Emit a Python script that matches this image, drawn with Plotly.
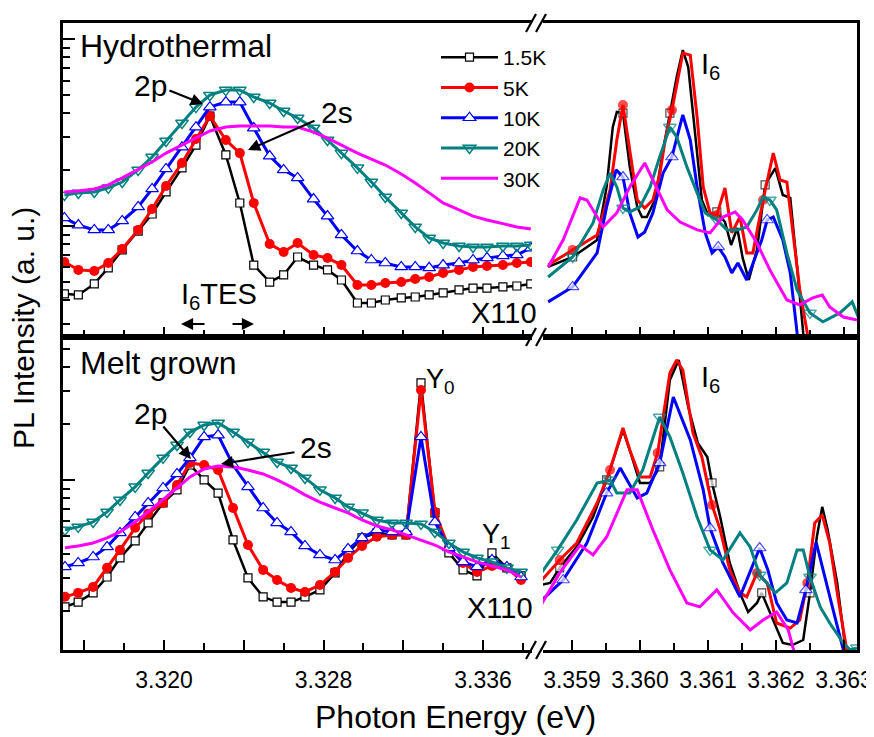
import plotly.graph_objects as go

# ---------------- data (log10 of PL intensity, arbitrary units) ----------------
labels = ["1.5K", "5K", "10K", "20K", "30K"]
colors = ["#000000", "#ff0000", "#0000ff", "#008080", "#ff00ff"]

# Hydrothermal, low-energy window (eV)
ht_left_E = [3.3150, 3.3157, 3.3165, 3.3172, 3.3179, 3.3187, 3.3194, 3.3201, 3.3209, 3.3216,
             3.3223, 3.3231, 3.3238, 3.3245, 3.3253, 3.3260, 3.3267, 3.3275, 3.3282, 3.3289,
             3.3297, 3.3304, 3.3311, 3.3319, 3.3326, 3.3333, 3.3340, 3.3348, 3.3355, 3.3362,
             3.3370, 3.3377, 3.3384]
ht_left_15K = [0.637, 0.631, 0.690, 0.776, 0.872, 0.973, 1.064, 1.182, 1.311, 1.433, 1.588, 1.380,
               1.123, 0.791, 0.700, 0.738, 0.834, 0.791, 0.765, 0.711, 0.588, 0.588, 0.604, 0.615,
               0.620, 0.631, 0.642, 0.658, 0.668, 0.668, 0.674, 0.679, 0.690]
ht_left_5K = [0.807, 0.765, 0.759, 0.802, 0.877, 0.979, 1.091, 1.214, 1.337, 1.465, 1.588, 1.460,
              1.390, 1.123, 0.904, 0.861, 0.909, 0.845, 0.829, 0.791, 0.684, 0.684, 0.695, 0.700,
              0.716, 0.727, 0.749, 0.765, 0.781, 0.786, 0.791, 0.802, 0.807]
ht_left_10K = [1.043, 1.005, 0.979, 0.979, 1.027, 1.102, 1.198, 1.305, 1.422, 1.529, 1.636, 1.663,
               1.663, 1.524, 1.374, 1.300, 1.257, 1.144, 1.053, 0.952, 0.866, 0.818, 0.802, 0.781,
               0.781, 0.776, 0.791, 0.802, 0.818, 0.829, 0.840, 0.845, 0.882]
ht_left_20K = [1.166, 1.177, 1.182, 1.204, 1.235, 1.300, 1.369, 1.455, 1.551, 1.636, 1.700, 1.727,
               1.727, 1.690, 1.658, 1.615, 1.578, 1.524, 1.460, 1.390, 1.311, 1.235, 1.155, 1.070,
               0.995, 0.936, 0.909, 0.893, 0.888, 0.888, 0.893, 0.893, 0.898]
ht_left_30K = [1.182, 1.187, 1.198, 1.220, 1.257, 1.300, 1.342, 1.390, 1.433, 1.470, 1.508, 1.529,
               1.535, 1.535, 1.535, 1.529, 1.529, 1.502, 1.470, 1.433, 1.390, 1.358, 1.326, 1.278,
               1.230, 1.177, 1.123, 1.086, 1.053, 1.032, 1.011, 0.995, 0.984]

# Hydrothermal, I6 window (eV)
ht_right_15K_E = [3.35865, 3.35901, 3.35937, 3.35951, 3.35960, 3.35966, 3.35975, 3.35985, 3.35996,
                  3.36003, 3.36010, 3.36022, 3.36034, 3.36044, 3.36054, 3.36063, 3.36071, 3.36081,
                  3.36091, 3.36100, 3.36113, 3.36125, 3.36134, 3.36143, 3.36151, 3.36160, 3.36172,
                  3.36184, 3.36199, 3.36210, 3.36221, 3.36231, 3.36240, 3.36244]
ht_right_15K = [0.781, 0.834, 0.925, 1.209, 1.529, 1.610, 1.604, 1.316, 1.102, 1.048, 1.048, 1.139,
                1.406, 1.604, 1.797, 1.941, 1.850, 1.497, 1.139, 1.059, 1.075, 1.021, 0.898, 0.989,
                0.829, 0.711, 0.872, 1.220, 1.310, 1.166, 1.150, 0.781, 0.428, 0.337]
ht_right_5K_E = [3.35865, 3.35901, 3.35937, 3.35956, 3.35966, 3.35975, 3.35985, 3.35996, 3.36007,
                 3.36019, 3.36029, 3.36037, 3.36047, 3.36054, 3.36063, 3.36074, 3.36084, 3.36093,
                 3.36103, 3.36113, 3.36125, 3.36135, 3.36147, 3.36157, 3.36166, 3.36181, 3.36196,
                 3.36206, 3.36216, 3.36225, 3.36235, 3.36246, 3.36250]
ht_right_5K = [0.791, 0.872, 0.952, 1.193, 1.460, 1.647, 1.406, 1.139, 1.096, 1.139, 1.273, 1.460,
               1.620, 1.754, 1.925, 1.914, 1.583, 1.209, 1.070, 1.059, 1.203, 0.963, 1.048, 0.856,
               0.856, 1.139, 1.390, 1.246, 1.235, 0.963, 0.658, 0.428, 0.337]
ht_right_10K_E = [3.35865, 3.35901, 3.35937, 3.35951, 3.35965, 3.35975, 3.35985, 3.35997, 3.36007,
                  3.36019, 3.36034, 3.36047, 3.36056, 3.36063, 3.36074, 3.36084, 3.36096, 3.36106,
                  3.36115, 3.36125, 3.36135, 3.36144, 3.36157, 3.36166, 3.36179, 3.36187, 3.36196,
                  3.36210, 3.36221, 3.36231, 3.36235]
ht_right_10K = [0.594, 0.674, 0.856, 1.102, 1.300, 1.262, 1.070, 0.941, 0.968, 1.070, 1.283, 1.369,
                1.497, 1.594, 1.460, 1.209, 0.963, 0.856, 0.888, 0.834, 0.749, 0.802, 0.711, 0.802,
                0.925, 1.032, 1.048, 0.925, 0.749, 0.428, 0.337]
ht_right_20K_E = [3.35865, 3.35901, 3.35931, 3.35946, 3.35956, 3.35966, 3.35975, 3.35985, 3.36000,
                  3.36015, 3.36029, 3.36044, 3.36054, 3.36069, 3.36084, 3.36096, 3.36113, 3.36128,
                  3.36143, 3.36157, 3.36172, 3.36181, 3.36191, 3.36201, 3.36216, 3.36231, 3.36250,
                  3.36269, 3.36294, 3.36312, 3.36321]
ht_right_20K = [0.727, 0.834, 1.016, 1.193, 1.283, 1.209, 1.096, 1.075, 1.102, 1.209, 1.369, 1.529,
                1.476, 1.316, 1.177, 1.070, 1.032, 0.979, 0.979, 0.995, 1.086, 1.155, 1.139, 1.086,
                0.856, 0.658, 0.535, 0.487, 0.535, 0.594, 0.513]
ht_right_30K_E = [3.35865, 3.35887, 3.35912, 3.35922, 3.35946, 3.35966, 3.35985, 3.36007, 3.36019,
                  3.36040, 3.36059, 3.36084, 3.36103, 3.36122, 3.36140, 3.36151, 3.36172, 3.36191,
                  3.36216, 3.36235, 3.36254, 3.36268, 3.36279, 3.36299, 3.36319]
ht_right_30K = [0.781, 0.925, 1.150, 1.139, 0.995, 1.070, 1.209, 1.337, 1.246, 1.086, 1.021, 0.979,
                0.963, 1.048, 1.075, 1.032, 0.909, 0.765, 0.604, 0.578, 0.615, 0.631, 0.567, 0.513,
                0.497]

# Melt grown, low-energy window (eV)
mg_left_E = [3.31503, 3.31569, 3.31644, 3.31714, 3.31779, 3.31855, 3.31920, 3.31995, 3.32065,
             3.32130, 3.32201, 3.32271, 3.32346, 3.32421, 3.32497, 3.32567, 3.32637, 3.32707,
             3.32782, 3.32858, 3.32923, 3.32993, 3.33068, 3.33144, 3.33214, 3.33289, 3.33359,
             3.33429, 3.33500, 3.33570, 3.33645, 3.33720, 3.33791]
mg_left_15K = [0.321, 0.347, 0.396, 0.481, 0.583, 0.674, 0.770, 0.877, 0.947, 1.080, 1.000, 0.930,
               0.679, 0.476, 0.375, 0.347, 0.347, 0.375, 0.412, 0.503, 0.610, 0.690, 0.717, 0.706,
               0.706, 1.519, 0.824, 0.610, 0.519, 0.487, 0.610, 0.530, 0.487]
mg_left_5K = [0.375, 0.396, 0.428, 0.530, 0.626, 0.744, 0.819, 0.877, 0.973, 1.091, 1.080, 1.053,
              0.850, 0.652, 0.519, 0.465, 0.422, 0.401, 0.438, 0.508, 0.583, 0.647, 0.696, 0.706,
              0.706, 1.481, 0.829, 0.637, 0.556, 0.508, 0.540, 0.530, 0.465]
mg_left_10K = [0.535, 0.556, 0.588, 0.642, 0.717, 0.802, 0.877, 0.957, 1.032, 1.118, 1.230, 1.240,
               1.080, 0.963, 0.850, 0.770, 0.722, 0.647, 0.599, 0.572, 0.631, 0.690, 0.733, 0.722,
               0.722, 1.230, 0.775, 0.637, 0.562, 0.535, 0.572, 0.535, 0.481]
mg_left_20K = [0.733, 0.749, 0.775, 0.829, 0.893, 0.963, 1.037, 1.118, 1.187, 1.256, 1.294, 1.305,
               1.256, 1.203, 1.149, 1.096, 1.064, 1.011, 0.947, 0.904, 0.856, 0.824, 0.786, 0.770,
               0.770, 0.765, 0.722, 0.663, 0.615, 0.583, 0.562, 0.530, 0.508]
mg_left_30K = [0.637, 0.647, 0.663, 0.690, 0.722, 0.775, 0.829, 0.893, 0.957, 1.016, 1.059, 1.075,
               1.070, 1.053, 1.032, 1.000, 0.963, 0.920, 0.882, 0.850, 0.824, 0.786, 0.754, 0.733,
               0.706, 0.679, 0.652, 0.615, 0.588, 0.562, 0.540, 0.519, 0.481]

# Melt grown, I6 window (eV)
mg_right_15K_E = [3.35853, 3.35868, 3.35882, 3.35907, 3.35931, 3.35951, 3.35975, 3.35985, 3.36000,
                  3.36015, 3.36029, 3.36044, 3.36057, 3.36071, 3.36085, 3.36099, 3.36106, 3.36118,
                  3.36132, 3.36147, 3.36159, 3.36172, 3.36179, 3.36191, 3.36210, 3.36224, 3.36240,
                  3.36250, 3.36260, 3.36268, 3.36276, 3.36290, 3.36301, 3.36309]
mg_right_15K = [0.438, 0.449, 0.530, 0.642, 0.802, 1.000, 1.267, 1.160, 0.984, 0.984, 1.070, 1.535,
                1.642, 1.390, 1.198, 1.123, 0.984, 0.802, 0.556, 0.396, 0.294, 0.342, 0.396, 0.289,
                0.128, 0.117, 0.144, 0.396, 0.695, 0.856, 0.733, 0.449, 0.128, 0.021]
mg_right_5K_E = [3.35853, 3.35882, 3.35907, 3.35937, 3.35956, 3.35975, 3.35985, 3.36000, 3.36015,
                 3.36026, 3.36044, 3.36054, 3.36063, 3.36078, 3.36091, 3.36106, 3.36118, 3.36132,
                 3.36147, 3.36157, 3.36172, 3.36187, 3.36201, 3.36221, 3.36235, 3.36246, 3.36257,
                 3.36268, 3.36279, 3.36291, 3.36304]
mg_right_5K = [0.454, 0.572, 0.663, 0.877, 1.053, 1.278, 1.160, 1.016, 1.016, 1.144, 1.572, 1.642,
               1.588, 1.251, 1.123, 0.866, 0.733, 0.519, 0.396, 0.375, 0.503, 0.449, 0.235, 0.208,
               0.251, 0.449, 0.770, 0.813, 0.663, 0.375, 0.091]
mg_right_10K_E = [3.35853, 3.35887, 3.35922, 3.35951, 3.35971, 3.35996, 3.36010, 3.36029, 3.36049,
                  3.36074, 3.36093, 3.36103, 3.36122, 3.36147, 3.36176, 3.36188, 3.36201, 3.36216,
                  3.36231, 3.36244, 3.36259, 3.36269, 3.36284, 3.36299]
mg_right_10K = [0.347, 0.465, 0.663, 0.930, 1.064, 0.904, 0.930, 1.091, 1.444, 1.214, 0.947, 0.743,
                0.556, 0.375, 0.636, 0.519, 0.342, 0.251, 0.235, 0.412, 0.668, 0.519, 0.305, 0.091]
mg_right_20K_E = [3.35853, 3.35879, 3.35907, 3.35937, 3.35956, 3.35966, 3.35985, 3.36004, 3.36029,
                  3.36044, 3.36063, 3.36084, 3.36103, 3.36122, 3.36147, 3.36162, 3.36176, 3.36199,
                  3.36216, 3.36231, 3.36240, 3.36250, 3.36265, 3.36279, 3.36299, 3.36309, 3.36319]
mg_right_20K = [0.492, 0.626, 0.786, 0.984, 1.000, 0.930, 0.930, 1.053, 1.337, 1.230, 1.037, 0.802,
                0.626, 0.572, 0.717, 0.642, 0.492, 0.396, 0.449, 0.626, 0.626, 0.481, 0.321, 0.235,
                0.128, 0.091, 0.102]
mg_right_30K_E = [3.35853, 3.35882, 3.35912, 3.35931, 3.35951, 3.35981, 3.35996, 3.36019, 3.36044,
                  3.36069, 3.36088, 3.36113, 3.36137, 3.36162, 3.36181, 3.36201, 3.36218, 3.36231]
mg_right_30K = [0.321, 0.503, 0.652, 0.599, 0.695, 0.947, 0.947, 0.733, 0.519, 0.342, 0.321, 0.412,
                0.289, 0.198, 0.251, 0.294, 0.198, 0.021]

# energies where the sparse markers sit in the I6 windows
ht_marker_E = [3.35901, 3.35975, 3.36047, 3.36115, 3.36187, 3.36254]
mg_marker_E = [3.35882, 3.35956, 3.36029, 3.36104, 3.36176, 3.36250, 3.36319]

# x tick values
left_ticks = [3.316, 3.320, 3.324, 3.328, 3.332, 3.336]
left_ticktext = ["", "3.320", "", "3.328", "", "3.336"]
right_ticks = [3.359, 3.360, 3.361, 3.362, 3.363]
right_ticktext = ["3.359", "3.360", "3.361", "3.362", "3.363"]

# ---------------- styling ----------------
FONT = "Arial, 'Liberation Sans', Helvetica, sans-serif"
symbols = ["square", "circle", "triangle-up", "triangle-down-open", None]
msizes = [8, 10, 11, 11, 0]
mfill = ["white", "#ff0000", "white", "#008080", None]
mline_w = [1.2, 0, 1.2, 1.5, 0]
lwidths = [2.5, 3, 3, 3, 3]

fig = go.Figure()


def add_series(xs, logs, i, xa, ya, sparse_grid=None, legend=False):
    ys = [10 ** v for v in logs]
    if symbols[i] is None:
        marker = None
        mode = "lines"
    else:
        if sparse_grid is None:
            size = msizes[i]
        else:
            size = [0] * len(xs)
            for g in sparse_grid:
                j = min(range(len(xs)), key=lambda k: abs(xs[k] - g))
                if abs(xs[j] - g) < 0.00008:
                    size[j] = msizes[i]
        marker = dict(symbol=symbols[i], size=size, color=mfill[i],
                      line=dict(color=colors[i], width=mline_w[i]))
        mode = "lines+markers"
    fig.add_trace(go.Scatter(
        x=xs, y=ys, mode=mode, name=labels[i], marker=marker,
        line=dict(color=colors[i], width=lwidths[i]),
        xaxis=xa, yaxis=ya, showlegend=legend, legendrank=i + 1))


ht_left = [ht_left_15K, ht_left_5K, ht_left_10K, ht_left_20K, ht_left_30K]
ht_right = [(ht_right_15K_E, ht_right_15K), (ht_right_5K_E, ht_right_5K),
            (ht_right_10K_E, ht_right_10K), (ht_right_20K_E, ht_right_20K),
            (ht_right_30K_E, ht_right_30K)]
mg_left = [mg_left_15K, mg_left_5K, mg_left_10K, mg_left_20K, mg_left_30K]
mg_right = [(mg_right_15K_E, mg_right_15K), (mg_right_5K_E, mg_right_5K),
            (mg_right_10K_E, mg_right_10K), (mg_right_20K_E, mg_right_20K),
            (mg_right_30K_E, mg_right_30K)]

for i in range(5):
    add_series(ht_left_E, ht_left[i], i, "x", "y", legend=True)
for i in range(5):
    add_series(ht_right[i][0], ht_right[i][1], i, "x2", "y2", sparse_grid=ht_marker_E)
for i in range(5):
    add_series(mg_left_E, mg_left[i], i, "x3", "y3")
for i in range(5):
    add_series(mg_right[i][0], mg_right[i][1], i, "x4", "y4", sparse_grid=mg_marker_E)

# ---------------- axes ----------------
XL = [0.0, 0.5907]
XR = [0.6045, 1.0]
YT = [0.4992, 1.0]
YB = [0.0, 0.4992]
LEFT_RANGE = [3.31493, 3.33846]
RIGHT_RANGE = [3.358574, 3.363191]
TOP_RANGE = [0.406, 2.086]
BOT_RANGE = [0.0906, 1.7645]

major_y = [1, 10, 100]
minor_y = [k * d for d in (0.1, 1, 10, 100) for k in range(2, 10)]

base_x = dict(showline=True, linecolor="black", linewidth=2.5, mirror=True,
              ticks="inside", ticklen=10, tickwidth=2, tickcolor="black",
              showgrid=False, zeroline=False, automargin=False,
              tickfont=dict(family=FONT, size=23, color="black"),
              ticklabelstandoff=8, ticklabeloverflow="allow")
left_x = dict(base_x, range=LEFT_RANGE, tickmode="array", tickvals=left_ticks,
              ticktext=left_ticktext,
              minor=dict(tickmode="linear", tick0=3.314, dtick=0.002, ticks="inside",
                         ticklen=7, tickwidth=2, tickcolor="black", showgrid=False))
right_x = dict(base_x, range=RIGHT_RANGE, tickmode="array",
               tickvals=right_ticks, ticktext=right_ticktext,
               minor=dict(tickmode="linear", tick0=3.3585, dtick=0.0005, ticks="inside",
                          ticklen=7, tickwidth=2, tickcolor="black", showgrid=False))

base_yl = dict(type="log", showline=True, linecolor="black", linewidth=2.5, mirror=False,
               ticks="inside", ticklen=12, tickwidth=2, tickcolor="black",
               tickmode="array", tickvals=major_y, showticklabels=False,
               showgrid=False, zeroline=False, automargin=False,
               minor=dict(tickmode="array", tickvals=minor_y, ticks="inside", ticklen=7,
                          tickwidth=2, tickcolor="black", showgrid=False))
base_yr = dict(type="log", showline=True, linecolor="black", linewidth=2.5, side="right",
               ticks="", showticklabels=False, showgrid=False, zeroline=False,
               automargin=False)

fig.update_layout(
    xaxis=dict(left_x, domain=XL, anchor="y", showticklabels=False),
    xaxis2=dict(right_x, domain=XR, anchor="y2", showticklabels=False),
    xaxis3=dict(left_x, domain=XL, anchor="y3"),
    xaxis4=dict(right_x, domain=XR, anchor="y4"),
    yaxis=dict(base_yl, domain=YT, anchor="x", range=TOP_RANGE),
    yaxis2=dict(base_yr, domain=YT, anchor="x2", range=TOP_RANGE),
    yaxis3=dict(base_yl, domain=YB, anchor="x3", range=BOT_RANGE),
    yaxis4=dict(base_yr, domain=YB, anchor="x4", range=BOT_RANGE),
)

# ---------------- layout ----------------
# the page body has an 8 px margin, so the figure is shifted 8 px right/down
PAGE_OFF = 8
W, H = 874, 737 - PAGE_OFF
ML, MR, MT, MB = 63 - PAGE_OFF, 17 + PAGE_OFF, 23 - PAGE_OFF, 87
PW, PH = W - ML - MR, H - MT - MB
PLOT_L, PLOT_B = 63, 650   # plot area in page pixels


def px(xp):
    return (xp - PLOT_L) / PW


def py(yp):
    return (PLOT_B - yp) / PH


fig.update_layout(
    width=W, height=H, autosize=False,
    margin=dict(l=ML, r=MR, t=MT, b=MB, autoexpand=False),
    paper_bgcolor="white", plot_bgcolor="white",
    font=dict(family=FONT, color="black"),
    showlegend=True,
    legend=dict(x=px(436), y=py(37), xanchor="left", yanchor="top",
                bgcolor="rgba(0,0,0,0)", font=dict(family=FONT, size=21, color="black"),
                itemwidth=57, tracegroupgap=0, itemsizing="trace"),
)

# axis-break marks
shapes = []
for yb in (23, 337, 650):
    for xb in (531, 541):
        shapes.append(dict(type="line", xref="paper", yref="paper",
                           x0=px(xb - 5), y0=py(yb + 9), x1=px(xb + 5), y1=py(yb - 9),
                           line=dict(color="black", width=2.2)))
fig.update_layout(shapes=shapes)

ann = []


def text(xp, yp, s, size=30, xanchor="center", yanchor="middle", angle=0):
    ann.append(dict(xref="paper", yref="paper", x=px(xp), y=py(yp), text=s, showarrow=False,
                    xanchor=xanchor, yanchor=yanchor, textangle=angle,
                    font=dict(family=FONT, size=size, color="black")))


def arrow(x_tip, y_tip, x_tail, y_tail):
    ann.append(dict(xref="paper", yref="paper", x=px(x_tip), y=py(y_tip), text="",
                    showarrow=True, arrowhead=2, arrowsize=1.1, arrowwidth=2.2,
                    arrowcolor="black", ax=x_tail - x_tip, ay=y_tail - y_tip))


text(78, 46, "Hydrothermal", 32, xanchor="left")
text(78, 363, "Melt grown", 32, xanchor="left")
text(150, 86, "2p", 30)
arrow(203, 104, 168, 90)
text(337, 112, "2s", 30)
arrow(248, 150, 316, 120)
text(179, 296, "I<sub>6</sub>TES", 29, xanchor="left")
arrow(181, 324, 206, 324)
arrow(254, 324, 231, 324)
text(504, 313, "X110", 29)
text(699, 66, "I<sub>6</sub>", 29, xanchor="left")
text(150, 413, "2p", 30)
arrow(191, 459, 162, 425)
text(316, 448, "2s", 30)
arrow(221, 464, 296, 452)
text(424, 381, "Y<sub>0</sub>", 27, xanchor="left")
text(480, 536, "Y<sub>1</sub>", 27, xanchor="left")
text(500, 608, "X110", 29)
text(699, 379, "I<sub>6</sub>", 29, xanchor="left")
text(24, 328, "PL Intensity (a. u.)", 30, angle=-90)
text(455, 717, "Photon Energy (eV)", 32)
fig.update_layout(annotations=ann)

fig.write_html("out.html")
